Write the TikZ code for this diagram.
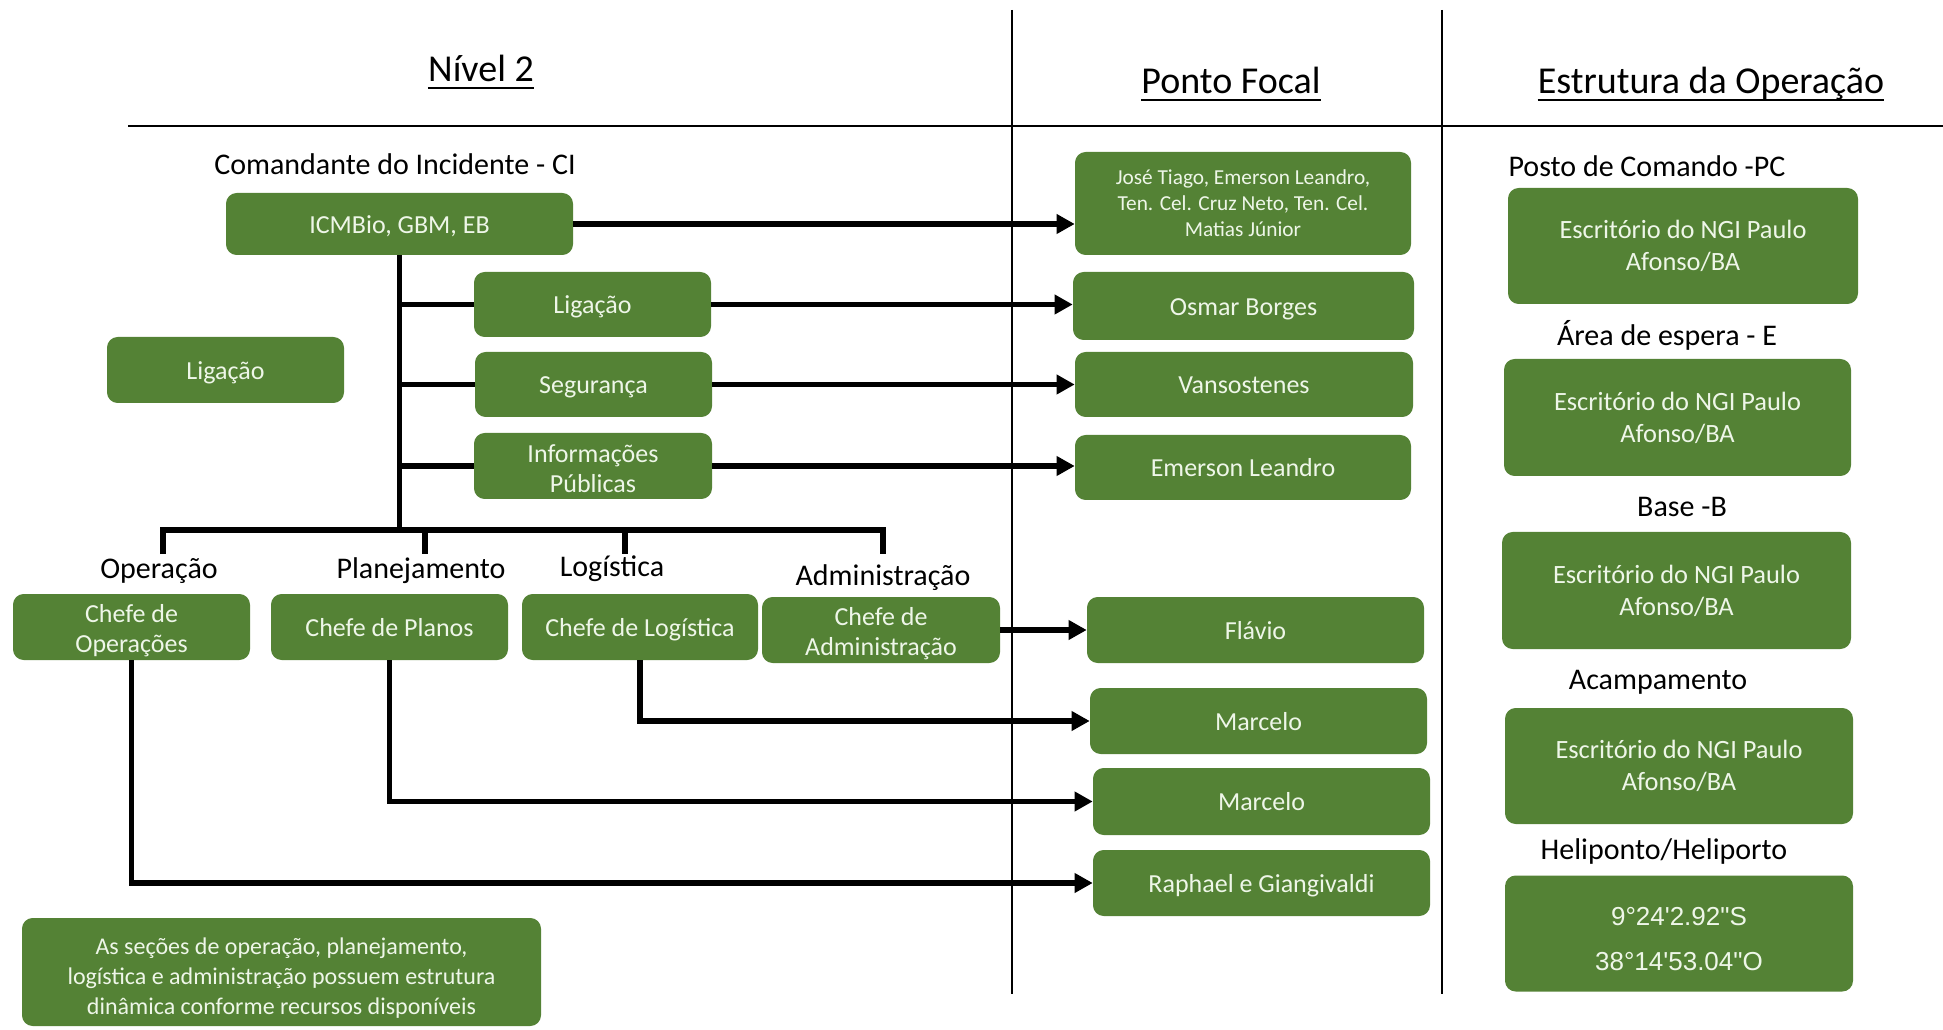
\documentclass[tikz,border=0pt]{standalone}
\usepackage{fontspec}
\setmainfont{Carlito}
\newfontfamily\arialf[Ligatures=TeXOff]{Liberation Sans}
\usetikzlibrary{arrows.meta}
\newdimen\px \px=0.75pt
\definecolor{boxgreen}{HTML}{548235}
\definecolor{boxtext}{HTML}{EEF6E8}
\newcommand{\topstrut}[1]{\rule{0pt}{#1em}}
\begin{document}
\begin{tikzpicture}[x=0.75pt,y=-0.75pt,
  box/.style={fill=boxgreen, rounded corners=8pt, text=boxtext, align=center, inner sep=0pt, font=\fontsize{19.5}{22.5}\selectfont},
  one/.style={text height=16pt, text depth=2pt},
  esc/.style={box, font=\fontsize{19.8}{24}\selectfont},
  lbl/.style={inner sep=0pt, font=\fontsize{22.5}{27}\selectfont, text height=15pt, text depth=2pt},
  head/.style={inner sep=0pt, anchor=base, font=\fontsize{28.5}{34}\selectfont},
  uline/.style={line width=1.6pt},
  tree/.style={line width=4.1pt, line join=miter},
  arr/.style={line width=4.1pt, -{Triangle[length=13.5pt,width=14pt]}},
  rule/.style={line width=1.1pt}]
\useasboundingbox (0,0) rectangle (1943,1030);

% dividers
\coordinate (hL) at (128,126);
\coordinate (hR) at (1943,126);
\coordinate (v1t) at (1012,10);
\coordinate (v1b) at (1012,994);
\coordinate (v2t) at (1442,10);
\coordinate (v2b) at (1442,994);
\draw[rule] (hL) -- (hR);
\draw[rule] (v1t) -- (v1b);
\draw[rule] (v2t) -- (v2b);

% headings
\node[head] (h1) at (481,82) {Nível 2};
\node[head] (h2) at (1231,94) {Ponto Focal};
\node[head] (h3) at (1711,94) {Estrutura da Operação};
\foreach \h in {h1,h2,h3}
  \draw[uline] ([yshift=-4.5pt]\h.base west) -- ([yshift=-4.5pt]\h.base east);

% labels
\node[lbl] (lci) at (395,166) {Comandante do Incidente - CI};
\node[lbl] (lop) at (159,570) {Operação};
\node[lbl] (lpl) at (421,570) {Planejamento};
\node[lbl] (llo) at (612,568) {Logística};
\node[lbl] (lad) at (883,577) {Administração};
\node[lbl] (lpc) at (1647,168) {Posto de Comando -PC};
\node[lbl] (les) at (1667,337) {Área de espera - E};
\node[lbl] (lba) at (1682,508) {Base -B};
\node[lbl] (lac) at (1658,681) {Acampamento};
\node[lbl] (lhe) at (1664,851) {Heliponto/Heliporto};

% left boxes
\node[box, one, minimum width=347\px, minimum height=62\px] (icm) at (399.5,224) {ICMBio, GBM, EB};
\node[box, one, minimum width=237\px, minimum height=65\px] (lig1) at (592.5,304.5) {Ligação};
\node[box, one, minimum width=237\px, minimum height=66\px] (ligL) at (225.5,370) {Ligação};
\node[box, one, minimum width=237\px, minimum height=65\px] (seg) at (593.5,384.5) {Segurança};
\node[box, minimum width=238\px, minimum height=66\px] (info) at (593,466) {\topstrut{0.9}Informações\\Públicas};
\node[box, minimum width=237\px, minimum height=66\px] (cop) at (131.5,627) {\topstrut{1.0}Chefe de\\Operações};
\node[box, one, minimum width=237\px, minimum height=66\px] (cpl) at (389.5,627) {Chefe de Planos};
\node[box, one, minimum width=236\px, minimum height=66\px] (clog) at (640,627) {Chefe de Logística};
\node[box, minimum width=238\px, minimum height=66\px] (cadm) at (881,630) {\topstrut{1.0}Chefe de\\Administração};
\node[box, minimum width=519\px, minimum height=108\px, font=\fontsize{18}{22.5}\selectfont] (note) at (281.5,972) {\topstrut{1.2}As seções de operação, planejamento,\\logística e administração possuem estrutura\\dinâmica conforme recursos disponíveis};

% focal boxes
\node[box, minimum width=336\px, minimum height=103\px, font=\fontsize{16}{19.5}\selectfont] (jose) at (1243,203.5) {José Tiago, Emerson Leandro,\\Ten. Cel. Cruz Neto, Ten. Cel.\\Matias Júnior};
\node[box, one, minimum width=341\px, minimum height=68\px] (osmar) at (1243.5,306) {Osmar Borges};
\node[box, one, minimum width=338\px, minimum height=65\px] (vans) at (1244,384.5) {Vansostenes};
\node[box, one, minimum width=336\px, minimum height=65\px] (emer) at (1243,467.5) {Emerson Leandro};
\node[box, one, minimum width=337\px, minimum height=66\px] (flavio) at (1255.5,630) {Flávio};
\node[box, one, minimum width=337\px, minimum height=66\px] (marc1) at (1258.5,721) {Marcelo};
\node[box, one, minimum width=337\px, minimum height=67\px] (marc2) at (1261.5,801.5) {Marcelo};
\node[box, one, minimum width=337\px, minimum height=66\px] (raph) at (1261.5,883) {Raphael e Giangivaldi};

% structure boxes
\node[esc, minimum width=350\px, minimum height=116\px] (pc) at (1683,246) {Escritório do NGI Paulo\\Afonso/BA};
\node[esc, minimum width=347\px, minimum height=117\px] (esp) at (1677.5,417.5) {Escritório do NGI Paulo\\Afonso/BA};
\node[esc, minimum width=349\px, minimum height=117\px] (base) at (1676.5,590.5) {Escritório do NGI Paulo\\Afonso/BA};
\node[esc, minimum width=348\px, minimum height=116\px] (acamp) at (1679,766) {Escritório do NGI Paulo\\Afonso/BA};
\node[box, minimum width=348\px, minimum height=116\px, font=\arialf\fontsize{19.5}{33.75}\selectfont] (heli) at (1679,933.5) {\topstrut{1.15}9°24'2.92"S\\38°14'53.04"O};

% tree
\coordinate (busL) at (163,530);
\coordinate (busR) at (883,530);
\coordinate (dOp) at (163,554);
\coordinate (bPl) at (425,530);
\coordinate (dPl) at (425,554);
\coordinate (bLo) at (625,530);
\coordinate (dLo) at (625,554);
\coordinate (dAd) at (883,554);
\draw[tree] (icm.south) -- (icm.south |- busL);
\draw[tree] (dOp) -- (busL) -- (busR) -- (dAd);
\draw[tree] (bPl) -- (dPl);
\draw[tree] (bLo) -- (dLo);
\draw[tree] (icm.south |- lig1.west) -- (lig1.west);
\draw[tree] (icm.south |- seg.west) -- (seg.west);
\draw[tree] (icm.south |- info.west) -- (info.west);

% arrows
\draw[arr] (icm.east) -- (icm.east -| jose.west);
\draw[arr] (lig1.east) -- (lig1.east -| osmar.west);
\draw[arr] (seg.east) -- (seg.east -| vans.west);
\draw[arr] (info.east) -- (info.east -| emer.west);
\draw[arr] (cadm.east) -- (cadm.east -| flavio.west);
\draw[arr] (clog.south) |- (marc1.west);
\draw[arr] (cpl.south) |- (marc2.west);
\draw[arr] (cop.south) |- (raph.west);
\end{tikzpicture}
\end{document}
